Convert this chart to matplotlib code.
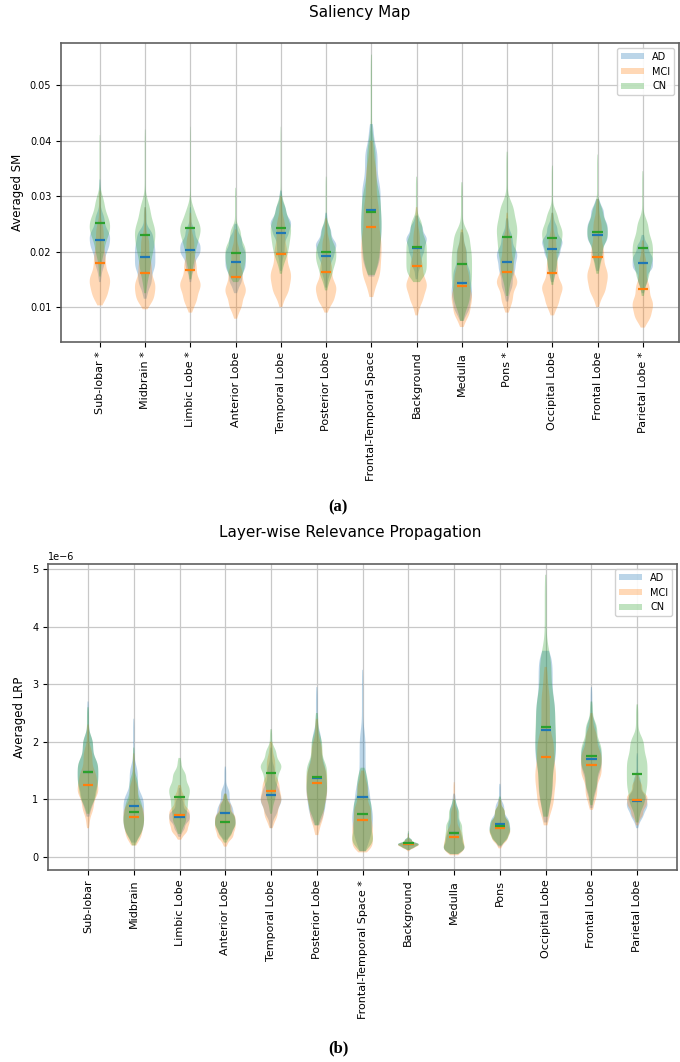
import numpy as np
import matplotlib
matplotlib.use("Agg")
import matplotlib.pyplot as plt
from matplotlib.patches import Patch
from matplotlib import cbook

regions_sm = ["Sub-lobar *", "Midbrain *", "Limbic Lobe *", "Anterior Lobe", "Temporal Lobe",
              "Posterior Lobe", "Frontal-Temporal Space", "Background", "Medulla", "Pons *",
              "Occipital Lobe", "Frontal Lobe", "Parietal Lobe *"]
regions_lrp = ["Sub-lobar", "Midbrain", "Limbic Lobe", "Anterior Lobe", "Temporal Lobe",
               "Posterior Lobe", "Frontal-Temporal Space *", "Background", "Medulla", "Pons",
               "Occipital Lobe", "Frontal Lobe", "Parietal Lobe"]
groups = ["AD", "MCI", "CN"]
colors = ["#1f77b4", "#ff7f0e", "#2ca02c"]

# quantile levels used for every violin (min, 5%, 25%, median, 75%, 95%, max)
qlev = [0, 0.05, 0.25, 0.5, 0.75, 0.95, 1.0]

# Saliency map, values in units of 1e-3
sm_ad = [[14.5, 17.0, 20.0, 22.0, 23.8, 27.0, 33.0],
         [11.5, 13.5, 16.5, 19.0, 21.5, 24.0, 28.0],
         [14.5, 16.5, 19.0, 20.5, 22.0, 24.5, 28.0],
         [12.5, 14.0, 16.5, 18.5, 20.5, 23.0, 25.0],
         [16.5, 19.0, 22.5, 24.5, 26.0, 28.5, 31.0],
         [13.5, 15.5, 18.5, 20.5, 22.0, 24.5, 27.0],
         [15.5, 17.5, 22.0, 27.0, 32.5, 39.0, 43.0],
         [15.0, 17.0, 19.5, 21.5, 23.0, 25.0, 26.5],
         [7.5, 9.0, 11.5, 14.0, 17.0, 21.0, 23.5],
         [11.0, 13.0, 16.0, 18.5, 20.5, 23.5, 26.0],
         [14.5, 16.0, 19.0, 21.0, 22.5, 25.0, 27.0],
         [16.5, 18.5, 21.5, 23.5, 25.5, 28.0, 29.5],
         [12.5, 14.0, 16.5, 18.0, 19.5, 21.5, 23.0]]
sm_mci = [[10.3, 11.5, 13.8, 16.0, 20.0, 25.0, 31.0],
          [9.6, 10.8, 12.8, 15.0, 18.5, 23.0, 28.0],
          [9.0, 10.5, 13.0, 15.0, 18.5, 23.0, 27.0],
          [7.9, 9.5, 12.0, 14.0, 17.0, 21.0, 24.0],
          [10.0, 12.0, 14.5, 17.0, 21.0, 26.0, 30.0],
          [9.0, 10.5, 12.5, 14.5, 18.0, 22.5, 26.0],
          [11.8, 14.5, 18.5, 23.0, 29.0, 36.0, 40.0],
          [8.5, 10.5, 13.0, 15.0, 18.5, 24.0, 28.0],
          [6.4, 8.0, 10.5, 13.0, 16.5, 21.0, 24.0],
          [9.0, 10.5, 13.5, 15.5, 19.0, 23.0, 27.0],
          [8.5, 10.0, 12.5, 14.5, 18.5, 23.0, 27.0],
          [10.0, 12.0, 14.5, 17.0, 21.0, 26.0, 29.5],
          [6.3, 7.5, 9.5, 11.5, 14.5, 19.0, 22.0]]
sm_cn = [[15.5, 19.0, 22.5, 24.5, 26.5, 30.0, 41.0],
         [12.5, 15.5, 19.5, 22.5, 25.0, 29.0, 42.0],
         [15.0, 17.5, 21.0, 23.5, 25.0, 28.0, 42.5],
         [14.5, 15.5, 17.5, 19.5, 21.5, 24.5, 31.5],
         [16.0, 18.5, 21.0, 23.5, 25.5, 29.0, 42.5],
         [13.0, 15.0, 17.5, 19.5, 21.5, 25.0, 33.5],
         [15.8, 17.5, 22.0, 26.5, 31.5, 40.0, 55.5],
         [14.5, 15.5, 17.5, 20.0, 22.5, 26.0, 33.5],
         [7.5, 10.0, 13.5, 17.0, 20.5, 24.0, 32.5],
         [12.0, 15.0, 19.0, 22.5, 25.5, 29.0, 38.0],
         [14.0, 16.5, 20.0, 22.5, 24.5, 27.5, 35.5],
         [16.0, 18.0, 21.5, 23.5, 25.5, 28.5, 37.5],
         [12.0, 14.5, 17.5, 20.0, 22.5, 26.0, 34.5]]
sm_mean_ad = [22.0, 19.1, 20.2, 18.2, 23.4, 19.2, 27.5, 20.7, 14.3, 18.2, 20.4, 22.9, 17.9]
sm_mean_mci = [18.0, 16.2, 16.7, 15.4, 19.5, 16.4, 24.5, 17.4, 13.8, 16.4, 16.1, 19.1, 13.3]
sm_mean_cn = [25.1, 23.0, 24.2, 19.7, 24.3, 19.9, 27.2, 20.8, 17.8, 22.7, 22.5, 23.6, 20.7]

# LRP, values in units of 1e-6
lrp_ad = [[0.70, 0.90, 1.20, 1.45, 1.70, 2.10, 2.70],
          [0.25, 0.40, 0.60, 0.85, 1.10, 1.60, 2.40],
          [0.35, 0.45, 0.60, 0.70, 0.80, 1.00, 1.20],
          [0.30, 0.40, 0.55, 0.70, 0.90, 1.20, 1.57],
          [0.50, 0.70, 0.90, 1.05, 1.25, 1.60, 1.90],
          [0.55, 0.70, 1.00, 1.30, 1.65, 2.20, 2.95],
          [0.10, 0.25, 0.55, 0.85, 1.30, 2.20, 3.25],
          [0.12, 0.15, 0.19, 0.22, 0.25, 0.32, 0.42],
          [0.05, 0.10, 0.20, 0.38, 0.62, 0.90, 1.10],
          [0.18, 0.28, 0.42, 0.55, 0.70, 0.95, 1.27],
          [0.60, 0.95, 1.60, 2.15, 2.75, 3.40, 3.58],
          [0.85, 1.10, 1.45, 1.70, 1.95, 2.35, 2.95],
          [0.50, 0.65, 0.82, 0.95, 1.10, 1.40, 1.80]]
lrp_mci = [[0.50, 0.75, 1.05, 1.25, 1.50, 1.90, 2.30],
           [0.20, 0.30, 0.50, 0.70, 0.90, 1.30, 1.80],
           [0.30, 0.40, 0.55, 0.70, 0.85, 1.10, 1.25],
           [0.18, 0.30, 0.45, 0.60, 0.75, 0.95, 1.10],
           [0.50, 0.65, 0.90, 1.10, 1.35, 1.75, 2.00],
           [0.38, 0.60, 0.95, 1.25, 1.55, 2.00, 2.40],
           [0.08, 0.15, 0.35, 0.60, 0.90, 1.30, 1.50],
           [0.10, 0.14, 0.18, 0.21, 0.24, 0.30, 0.40],
           [0.03, 0.08, 0.18, 0.32, 0.50, 0.85, 1.30],
           [0.15, 0.25, 0.38, 0.50, 0.65, 0.85, 1.00],
           [0.55, 0.80, 1.20, 1.60, 2.10, 2.90, 3.30],
           [0.82, 1.00, 1.35, 1.60, 1.85, 2.20, 2.50],
           [0.55, 0.68, 0.85, 0.98, 1.10, 1.30, 1.45]]
lrp_cn = [[0.75, 0.95, 1.20, 1.45, 1.70, 2.10, 2.60],
          [0.20, 0.35, 0.55, 0.75, 1.00, 1.40, 1.90],
          [0.40, 0.55, 0.80, 1.05, 1.25, 1.50, 1.72],
          [0.25, 0.35, 0.50, 0.62, 0.75, 0.95, 1.10],
          [0.75, 0.95, 1.25, 1.50, 1.65, 1.90, 2.22],
          [0.55, 0.75, 1.05, 1.35, 1.65, 2.10, 2.50],
          [0.10, 0.20, 0.40, 0.70, 1.00, 1.40, 1.55],
          [0.12, 0.15, 0.19, 0.22, 0.25, 0.32, 0.45],
          [0.05, 0.10, 0.22, 0.40, 0.60, 0.85, 1.00],
          [0.20, 0.28, 0.40, 0.52, 0.65, 0.85, 1.05],
          [0.70, 1.00, 1.65, 2.20, 2.80, 3.60, 4.90],
          [0.90, 1.15, 1.50, 1.75, 2.00, 2.35, 2.70],
          [0.60, 0.85, 1.15, 1.45, 1.75, 2.10, 2.65]]
lrp_mean_ad = [1.48, 0.89, 0.70, 0.76, 1.08, 1.38, 1.04, 0.22, 0.41, 0.57, 2.21, 1.70, 0.97]
lrp_mean_mci = [1.25, 0.70, 0.73, 0.60, 1.15, 1.28, 0.65, 0.22, 0.34, 0.51, 1.73, 1.59, 0.99]
lrp_mean_cn = [1.47, 0.78, 1.04, 0.61, 1.46, 1.39, 0.74, 0.24, 0.42, 0.53, 2.26, 1.76, 1.44]


def quantile_density(q, coords):
    # density implied by the quantiles, smoothed a bit
    dens = np.zeros_like(coords)
    for i in range(len(q) - 1):
        m = (coords >= q[i]) & (coords <= q[i + 1])
        dens[m] = (qlev[i + 1] - qlev[i]) / (q[i + 1] - q[i])
    step = coords[1] - coords[0]
    sig = 0.045 * (q[-1] - q[0]) / step
    t = np.arange(-int(3 * sig), int(3 * sig) + 1)
    k = np.exp(-0.5 * (t / sig) ** 2)
    k /= k.sum()
    return np.convolve(dens, k, mode="same")


def draw_panel(ax, sets, means, scale, labels):
    pos = np.arange(1, len(labels) + 1)
    for data, mn, col in zip(sets, means, colors):
        data = [np.array(d) * scale for d in data]
        stats = cbook.violin_stats(data, quantile_density, points=200)
        for s, m in zip(stats, mn):
            s["mean"] = m * scale
        parts = ax.violin(stats, positions=pos, widths=0.45,
                          showmeans=True, showextrema=False)
        for b in parts["bodies"]:
            b.set_facecolor(col)
            b.set_edgecolor("none")
            b.set_alpha(0.3)
        parts["cmeans"].set_color(col)
        parts["cmeans"].set_linewidth(1.6)
    ax.set_xticks(pos)
    ax.set_xticklabels(labels, rotation=90, fontsize=8)
    ax.tick_params(axis="y", labelsize=7)
    ax.grid(True, color="#c8c8c8", linewidth=0.9)
    ax.set_axisbelow(True)
    for sp in ax.spines.values():
        sp.set_color("#606060")
        sp.set_linewidth(1.2)
    handles = [Patch(facecolor=c, alpha=0.3) for c in colors]
    ax.legend(handles, groups, loc="upper right", fontsize=7, handlelength=2.4,
              handleheight=0.6, framealpha=0.9)


fig = plt.figure(figsize=(6.8, 10.62), dpi=100)

ax1 = fig.add_axes([61 / 680, 1 - 342 / 1062, 618 / 680, 299 / 1062])
draw_panel(ax1, [sm_ad, sm_mci, sm_cn], [sm_mean_ad, sm_mean_mci, sm_mean_cn], 1e-3, regions_sm)
ax1.set_xlim(0.14, 13.8)
ax1.set_ylim(0.0037, 0.0576)
ax1.set_ylabel("Averaged SM", fontsize=8.5)
fig.text(360 / 680, 1 - 13 / 1062, "Saliency Map", ha="center", va="center", fontsize=11)

ax2 = fig.add_axes([48 / 680, 1 - 870 / 1062, 629 / 680, 306 / 1062])
draw_panel(ax2, [lrp_ad, lrp_mci, lrp_cn], [lrp_mean_ad, lrp_mean_mci, lrp_mean_cn], 1e-6, regions_lrp)
ax2.set_xlim(0.126, 13.87)
ax2.set_ylim(-0.226e-6, 5.087e-6)
ax2.yaxis.get_offset_text().set_fontsize(7)
ax2.set_ylabel("Averaged LRP", fontsize=8.5)
fig.text(350 / 680, 1 - 532 / 1062, "Layer-wise Relevance Propagation", ha="center", va="center", fontsize=11)

fig.text(338 / 680, 1 - 507 / 1062, "(a)", ha="center", va="center", fontsize=12,
         fontweight="bold", family="Liberation Serif")
fig.text(338 / 680, 1 - 1048 / 1062, "(b)", ha="center", va="center", fontsize=12,
         fontweight="bold", family="Liberation Serif")

fig.savefig("out.png", dpi=100)
